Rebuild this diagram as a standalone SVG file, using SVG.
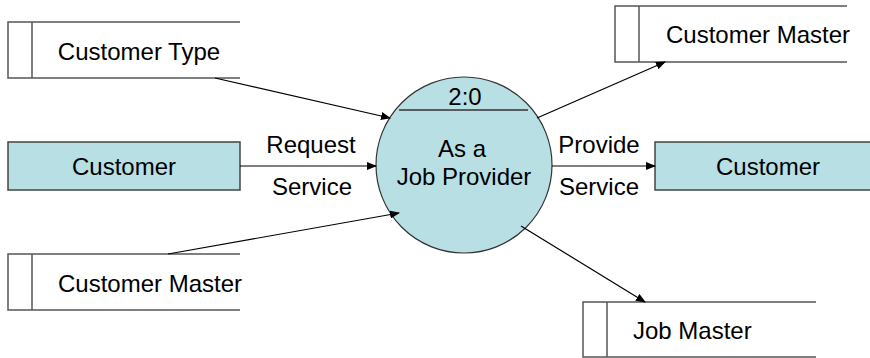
<svg xmlns="http://www.w3.org/2000/svg" width="870" height="358" viewBox="0 0 870 358">
<defs>
<marker id="ah" markerWidth="10" markerHeight="8" refX="9" refY="4" orient="auto" markerUnits="userSpaceOnUse">
<path d="M0,0 L10,4 L0,8 Z" fill="#000"/>
</marker>
<style>
.t{font-family:"Liberation Sans",Arial,sans-serif;font-size:24px;fill:#000}
.m{text-anchor:middle}
.ds{fill:none;stroke:#555;stroke-width:1.5}
.ent{fill:#b8dfe3;stroke:#444;stroke-width:1.5}
.c{stroke:#000;stroke-width:1.2;fill:none;marker-end:url(#ah)}
</style>
</defs>
<rect width="870" height="358" fill="#fff"/>
<g id="customer-type">
<path class="ds" d="M240,22 H8 V78 H240 M32,22 V78"/>
<text class="t m" x="139" y="60">Customer Type</text>
</g>
<g id="customer-left">
<rect class="ent" x="8" y="142" width="232" height="48"/>
<text class="t m" x="124" y="175">Customer</text>
</g>
<g id="customer-master-left">
<path class="ds" d="M240,254 H8 V310 H240 M32,254 V310"/>
<text class="t" x="58" y="292">Customer Master</text>
</g>
<g id="process">
<circle cx="464" cy="165" r="88" fill="#b8dfe3" stroke="#333" stroke-width="1.2"/>
<line x1="399" y1="110" x2="528" y2="110" stroke="#333" stroke-width="1.5"/>
<text class="t m" x="465" y="105">2:0</text>
<text class="t m" x="462" y="157">As a</text>
<text class="t m" x="464" y="185">Job Provider</text>
</g>
<g id="customer-master-right">
<path class="ds" d="M847,6 H615 V62 H847 M639,6 V62"/>
<text class="t" x="666" y="43">Customer Master</text>
</g>
<g id="customer-right">
<rect class="ent" x="655" y="142" width="220" height="48"/>
<text class="t m" x="768" y="175">Customer</text>
</g>
<g id="job-master">
<path class="ds" d="M816,302 H583 V357 H816 M607,302 V357"/>
<text class="t" x="633" y="339">Job Master</text>
</g>
<g id="connectors">
<line class="c" x1="215" y1="78" x2="390" y2="118"/>
<line class="c" x1="240" y1="166" x2="376" y2="166"/>
<line class="c" x1="168" y1="254" x2="399" y2="213"/>
<line class="c" x1="537" y1="118" x2="665" y2="62"/>
<line class="c" x1="552" y1="166" x2="655" y2="166"/>
<line class="c" x1="521" y1="226" x2="645" y2="302"/>
<text class="t m" x="311" y="153">Request</text>
<text class="t m" x="312" y="195">Service</text>
<text class="t m" x="599" y="153">Provide</text>
<text class="t m" x="599" y="195">Service</text>
</g>
</svg>
